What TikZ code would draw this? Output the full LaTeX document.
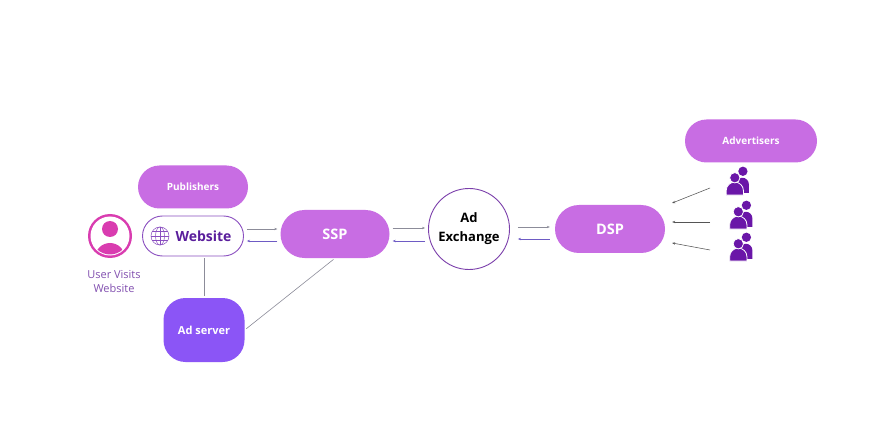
\documentclass[tikz,border=0pt]{standalone}
\usepackage{fontspec}
\setmainfont{Open Sans}
\usepackage{xcolor}
\usetikzlibrary{calc,arrows.meta}
\definecolor{pillfill}{HTML}{C86DE3}
\definecolor{serverfill}{HTML}{8B55F6}
\definecolor{usercol}{HTML}{D93CB0}
\definecolor{usertext}{HTML}{8250B0}
\definecolor{webborder}{HTML}{8A4FC0}
\definecolor{webtext}{HTML}{5A1E9C}
\definecolor{exborder}{HTML}{7B3FAB}
\definecolor{advcol}{HTML}{6A16A8}
\definecolor{linegray}{HTML}{8C8C99}
\definecolor{lineviolet}{HTML}{6E5BC4}
\definecolor{darkline}{HTML}{555555}
\tikzset{
  pill/.style={rectangle, fill=pillfill, text=white, inner sep=0pt},
  tag/.style={font=\bfseries\fontsize{10}{12}\selectfont},
  big/.style={font=\bfseries\fontsize{14.5}{16}\selectfont},
  flowin/.style={draw=linegray, line width=0.5pt, shorten >=3pt, shorten <=3pt, -{Stealth[length=3pt,width=2.4pt]}},
  flowout/.style={draw=lineviolet, line width=0.5pt, shorten >=3pt, shorten <=3pt, -{Stealth[length=3pt,width=2.4pt]}},
  feed/.style={draw=darkline, line width=0.55pt, -{Stealth[length=3pt,width=2.4pt]}},
  link/.style={draw=linegray, line width=0.6pt, shorten >=2pt, shorten <=2pt},
  people/.pic={
    \fill[advcol] (-1.5,11) -- (-1.5,3) arc[start angle=180, end angle=360, radius=6] -- (10.5,11) -- cycle;
    \fill[advcol] (5,-9) circle (4.3);
    \filldraw[advcol, draw=white, line width=0.8pt] (-10.5,13) -- (-10.5,9) arc[start angle=180, end angle=360, radius=8] -- (5.5,13) -- cycle;
    \filldraw[advcol, draw=white, line width=0.8pt] (-2.5,-3) circle (4.8);
  },
}

\begin{document}
\begin{tikzpicture}[x=1pt, y=-1pt]
  \useasboundingbox (0,0) rectangle (896,446);
  \fill[white] (0,0) rectangle (896,446);

  % publisher side
  \node[pill, tag, minimum width=110pt, minimum height=43pt, rounded corners=21.5pt] (publishers) at (193,187) {Publishers};
  \node[rectangle, draw=webborder, line width=0.9pt, fill=white, rounded corners=20pt, minimum width=101pt, minimum height=40pt] (website) at (193,236) {};
  \node[text=webtext, font=\bfseries\fontsize{14}{16}\selectfont] (websitelabel) at (203.5,236) {Website};
  \node[fill=serverfill, text=white, rounded corners=22pt, minimum width=81pt, minimum height=64pt, font=\bfseries\fontsize{11}{13}\selectfont] (adserver) at (204,330) {Ad server};

  % globe icon
  \begin{scope}[shift={(160,236)}, draw=webborder, line width=0.5pt]
    \draw (0,0) circle (9);
    \draw (0,0) ellipse [x radius=4.5, y radius=9];
    \draw (0,-9) -- (0,9);
    \draw (-9,0) -- (9,0);
    \draw (-7.8,-4.5) -- (7.8,-4.5);
    \draw (-7.8,4.5) -- (7.8,4.5);
  \end{scope}

  % user icon
  \coordinate (user) at (110,236);
  \fill[usercol] (user) circle (22);
  \fill[white] (user) circle (19.5);
  \begin{scope}
    \clip (user) circle (18.5);
    \fill[usercol] ($(user)+(0,-7)$) circle (8);
    \fill[usercol] ($(user)+(-15,22)$) -- ($(user)+(-15,22)$) arc[start angle=180, end angle=360, radius=15] -- cycle;
  \end{scope}
  \node[text=usertext, align=center, font=\fontsize{11}{14}\selectfont] (userlabel) at (114,282) {User Visits\\Website};

  % exchange chain
  \node[pill, big, minimum width=109pt, minimum height=48pt, rounded corners=24pt] (ssp) at (335,234) {SSP};
  \node[circle, draw=exborder, line width=0.9pt, minimum size=81pt, align=center, font=\bfseries\fontsize{13}{19}\selectfont] (adex) at (469,229) {Ad\\Exchange};
  \node[pill, big, minimum width=110pt, minimum height=48pt, rounded corners=24pt] (dsp) at (610,229) {DSP};

  % advertisers
  \node[pill, tag, minimum width=132pt, minimum height=43pt, rounded corners=21.5pt] (advertisers) at (751,141) {Advertisers};
  \coordinate (adv1) at (737.5,181);
  \coordinate (adv2) at (741,215);
  \coordinate (adv3) at (741,247);
  \foreach \a in {adv1,adv2,adv3}
    \pic[scale=1.08] at (\a) {people};

  % bid requests and responses
  \draw[flowin] ($(website.east)+(0,-7)$) -- ($(website.east -| ssp.west)+(0,-7)$);
  \draw[flowout] ($(website.east -| ssp.west)+(0,5)$) -- ($(website.east)+(0,5)$);
  \draw[flowin] ($(ssp.east)+(0,-6)$) -- ($(ssp.east -| adex.west)+(0,-6)$);
  \draw[flowout] ($(ssp.east -| adex.west)+(0,7)$) -- ($(ssp.east)+(0,7)$);
  \draw[flowin] ($(dsp.west -| adex.east)+(5,-2)$) -- ($(dsp.west)+(-2,-2)$);
  \draw[flowout] ($(dsp.west)+(-2,10)$) -- ($(dsp.west -| adex.east)+(5,10)$);

  \draw[feed] ($(adv1)+(-27.5,7)$) -- ($(dsp.east)+(7,-26)$);
  \draw[feed] ($(adv2)+(-31,7)$) -- ($(dsp.east)+(7,-7)$);
  \draw[feed] ($(adv3)+(-31,3)$) -- ($(dsp.east)+(7,14)$);

  \draw[link] (adserver.north) -- (adserver.north |- website.south);
  \draw[link] (adserver.east) -- (ssp.south);
\end{tikzpicture}
\end{document}
